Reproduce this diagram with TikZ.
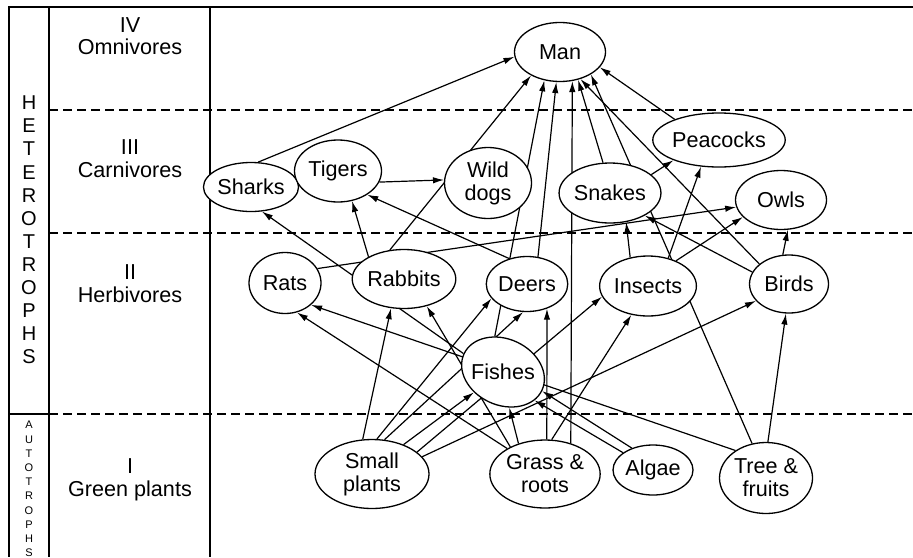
\documentclass[tikz,border=0pt]{standalone}
\usepackage{fontspec}
\setmainfont{Liberation Sans}
\usetikzlibrary{shapes.geometric, arrows.meta, backgrounds}

\tikzset{
  animal/.style={ellipse, draw, fill=white, line width=0.65pt, inner sep=0pt, align=center},
  feeds/.style={-{Latex[length=5.5pt, width=3.2pt]}, line width=0.6pt},
  level/.style={align=center, inner sep=0pt},
  guide/.style={dash pattern=on 4.5pt off 2.5pt, line width=0.6pt}
}

\begin{document}
\begin{tikzpicture}[x=0.5pt, y=-0.5pt, font=\fontsize{10.8pt}{11.5pt}\selectfont]
        \useasboundingbox (0,0) rectangle (913,557);
        % frame and levels
        \draw [line width=0.7pt] (913,7) -- (9,7) -- (9,557) (49,7) -- (49,557) (210,7) -- (210,557) (9,414) -- (49,414);
        \draw [guide] (49,110) -- (913,110) (49,233) -- (913,233) (49,414) -- (913,414);

        \node (omni) [level, font=\fontsize{10.8pt}{10.8pt}\selectfont] at (130,36) {IV\\Omnivores};
        \node (carni) [level] at (130,159) {III\\Carnivores};
        \node (herbi) [level] at (130,284) {II\\Herbivores};
        \node (green) [level] at (130,480) {I\\Green plants};
        \node (hetero) [level, font=\fontsize{10pt}{11.55pt}\selectfont] at (29,230) {H\\E\\T\\E\\R\\O\\T\\R\\O\\P\\H\\S};
        \node (auto) [level, font=\fontsize{5.5pt}{7.1pt}\selectfont] at (29,489) {A\\U\\T\\O\\T\\R\\O\\P\\H\\S};

        % organisms
        \node (man) [animal, minimum width=45.5pt, minimum height=29.5pt] at (560,52) {Man};
        \node (sharks) [animal, minimum width=35pt, minimum height=24.5pt] at (251,187) {Sharks};
        \node (tigers) [animal, minimum width=43.5pt, minimum height=31pt] at (338,171) {Tigers};
        \node (wilddogs) [animal, minimum width=43.5pt, minimum height=35.5pt] at (488,183) {Wild\\dogs};
        \node (snakes) [animal, minimum width=47pt, minimum height=30pt] at (610,193) {Snakes};
        \node (peacocks) [animal, minimum width=58pt, minimum height=27pt] at (719,140) {Peacocks};
        \node (owls) [animal, minimum width=45.5pt, minimum height=29.5pt] at (781,200) {Owls};
        \node (rats) [animal, minimum width=36pt, minimum height=30.5pt] at (285,283) {Rats};
        \node (rabbits) [animal, minimum width=51.5pt, minimum height=29.5pt] at (404,279) {Rabbits};
        \node (deers) [animal, minimum width=40.5pt, minimum height=27.5pt] at (527,284) {Deers};
        \node (insects) [animal, minimum width=45.5pt, minimum height=30pt] at (648,286) {Insects};
        \node (birds) [animal, minimum width=39.5pt, minimum height=29pt] at (789,284) {Birds};
        \node (fishes) [animal, rotate=-25, minimum width=43pt, minimum height=33pt] at (503,372) {};
        \node (fishes text) at (fishes.center) {Fishes};
        \node (smallplants) [animal, minimum width=57pt, minimum height=34.5pt] at (372,474) {Small\\plants};
        \node (grass) [animal, minimum width=51.5pt, minimum height=34pt] at (545,474) {Grass \&\\roots};
        \node (algae) [animal, minimum width=40pt, minimum height=25pt] at (653,470) {Algae};
        \node (tree) [animal, minimum width=46.5pt, minimum height=35.5pt] at (766,478) {Tree \&\\fruits};

        \begin{scope}[on background layer]
        % eaten by man
        \draw [feeds] (sharks.74) -- (man.186);
        \draw [feeds] (rabbits.116) -- (man.219);
        \draw [feeds] (fishes.128) -- (man.241);
        \draw [feeds] (deers.68) -- (man.263);
        \draw [feeds] (grass.50) -- (man.293);
        \draw [feeds] (snakes.103) -- (man.303);
        \draw [feeds] (birds.146) -- (man.307);
        \draw [feeds] (tree.112) -- (man.324);
        \draw [feeds] (peacocks.155) -- (man.339);

        % carnivores
        \draw [feeds] (tigers.345) -- (wilddogs.176);
        \draw [feeds] (rabbits.148) -- (tigers.295);
        \draw [feeds] (deers.125) -- (tigers.321);
        \draw [feeds] (fishes.180) -- (sharks.294);
        \draw [feeds] (insects.122) -- (snakes.299);
        \draw [feeds] (birds.162) -- (snakes.327);
        \draw [feeds] (snakes.24) -- (peacocks.204);
        \draw [feeds] (insects.54) -- (peacocks.236);
        \draw [feeds] (insects.42) -- (owls.204);
        \draw [feeds] (rats.24) -- (owls.189);
        \draw [feeds] (birds.102) -- (owls.283);

        % herbivores
        \draw [feeds] (tree.138) -- (rats.320);
        \draw [feeds] (grass.146) -- (rats.292);
        \draw [feeds] (smallplants.105) -- (rabbits.246);
        \draw [feeds] (grass.142) -- (rabbits.310);
        \draw [feeds] (smallplants.82) -- (deers.202);
        \draw [feeds] (smallplants.70) -- (deers.262);
        \draw [feeds] (grass.87) -- (deers.309);
        \draw [feeds] (smallplants.26) -- (insects.193);
        \draw [feeds] (grass.79) -- (insects.240);
        \draw [feeds] (smallplants.19) -- (birds.207);
        \draw [feeds] (tree.87) -- (birds.264);

        % fishes
        \draw [feeds] (smallplants.43) -- (fishes.240);
        \draw [feeds] (grass.131) -- (fishes.305);
        \draw [feeds] (algae.150) -- (fishes.343);
        \draw [feeds] (algae.134) -- (fishes.359);
        \end{scope}
    \end{tikzpicture}
\end{document}
